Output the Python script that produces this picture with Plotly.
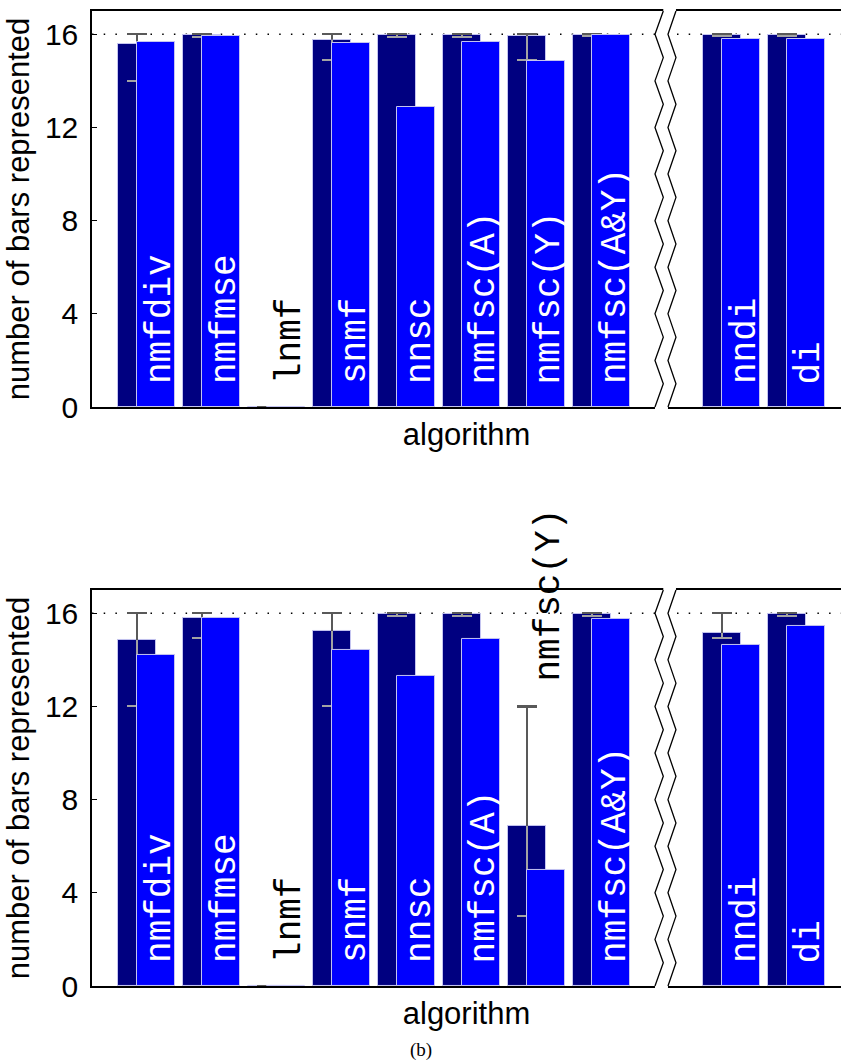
import plotly.graph_objects as go

# ---------------- data ----------------
algorithms = ['nmfdiv', 'nmfmse', 'lnmf', 'snmf', 'nnsc', 'nmfsc(A)',
              'nmfsc(Y)', 'nmfsc(A&Y)', 'nndi', 'di']
positions = [1, 2, 3, 4, 5, 6, 7, 8, 10, 11]
break_pos = 9

# upper panel
top_dark = [15.6, 15.96, 0, 15.77, 15.96, 15.96, 15.92, 15.96, 15.95, 15.95]
top_light = [15.67, 15.92, 0, 15.63, 12.88, 15.67, 14.86, 15.96, 15.79, 15.79]
top_err_hi = [16, 16, 0, 16, 16, 16, 16, 16, 16, 16]
top_err_lo = [14, 15.9, 0, 14.9, 15.9, 15.9, 14.9, 15.94, 15.92, 15.92]

# lower panel
bot_dark = [14.85, 15.8, 0, 15.23, 15.95, 15.95, 6.85, 15.95, 15.15, 15.95]
bot_light = [14.23, 15.8, 0, 14.43, 13.3, 14.88, 4.97, 15.75, 14.65, 15.45]
bot_err_hi = [16, 16, 0, 16, 16, 16, 12, 16, 16, 16]
bot_err_lo = [12, 14.95, 0, 12, 15.9, 15.9, 3, 15.9, 14.95, 15.9]

y_ticks = [0, 4, 8, 12, 16]
ref_level = 16
y_max = 17

# ---------------- style ----------------
DARK = '#000080'
LIGHT = '#0000ff'
EDGE = '#c4c4f0'
ERR_DARK = '#595959'
ERR_LIGHT = '#a3a3a3'
BAR_W = 0.585
DARK_OFF = -0.4385
LIGHT_OFF = -0.146
X_RANGE = [0.1615, 11.685]
SANS = 'Liberation Sans, Arial, sans-serif'
MONO = 'Liberation Mono, Courier New, monospace'

fig = go.Figure()
invisible = dict(color='rgba(0,0,0,0)', line=dict(width=0))


def add_panel(xa, ya, dark, light, hi, lo):
    xref = 'x' if xa == 'x1' else xa
    yref = 'y' if ya == 'y1' else ya
    common = dict(x=positions, xaxis=xref, yaxis=yref, width=BAR_W,
                  showlegend=False, hoverinfo='skip')
    # dark bars with upper half of error bar
    fig.add_trace(go.Bar(
        y=dark, offset=DARK_OFF, marker=dict(color=DARK, line=dict(color=EDGE, width=1)),
        error_y=dict(type='data', symmetric=False,
                     array=[h - d for h, d in zip(hi, dark)],
                     arrayminus=[0] * len(dark), width=0, thickness=2, color=ERR_DARK),
        **common))
    # lower half of error bar
    fig.add_trace(go.Bar(
        y=dark, offset=DARK_OFF, marker=invisible,
        error_y=dict(type='data', symmetric=False, array=[0] * len(dark),
                     arrayminus=[d - l for d, l in zip(dark, lo)],
                     width=0, thickness=2, color=ERR_LIGHT),
        **common))
    # lower caps
    fig.add_trace(go.Bar(
        y=lo, offset=DARK_OFF, marker=invisible,
        error_y=dict(type='data', symmetric=False, array=[0] * len(lo),
                     arrayminus=[0] * len(lo), width=10, thickness=2, color=ERR_LIGHT),
        **common))
    # upper caps
    fig.add_trace(go.Bar(
        y=hi, offset=DARK_OFF, marker=invisible,
        error_y=dict(type='data', symmetric=False, array=[0] * len(hi),
                     arrayminus=[0] * len(hi), width=10, thickness=2.2, color=ERR_DARK),
        **common))
    # light bars on top
    fig.add_trace(go.Bar(
        y=light, offset=LIGHT_OFF, marker=dict(color=LIGHT, line=dict(color=EDGE, width=1)),
        **common))

    # reference dotted line at 16
    fig.add_shape(type='line', xref=xref + ' domain', yref=yref, x0=0, x1=1,
                  y0=ref_level, y1=ref_level, layer='below',
                  line=dict(color='black', width=1.5, dash='1.5px,10.2px'))

    # in-bar rotated labels
    for name, p, lv, h in zip(algorithms, positions, light, hi):
        if 0 < lv < 8:
            base = h + 1.0
        else:
            base = 0.9
        color = 'white' if lv > base else 'black'
        fig.add_annotation(x=p + LIGHT_OFF + BAR_W / 2 + 0.06, y=base, xref=xref, yref=yref,
                           text=name.replace('&', '&amp;'), showarrow=False,
                           textangle=-90, xanchor='center', yanchor='bottom',
                           font=dict(family=MONO, size=36, color=color))

    # axis break symbol (zig-zag band)
    span = X_RANGE[1] - X_RANGE[0]

    def fx(v):
        return (break_pos + v - X_RANGE[0]) / span

    left_pts, right_pts = [], []
    for k in range(0, y_max + 1):
        even = (k % 2 == 0)
        left_pts.append((fx(-0.177 if even else -0.049), k / y_max))
        right_pts.append((fx(0.023 if even else 0.146), k / y_max))
    ext = 0.008
    fill_pts = ([(left_pts[0][0], -ext)] + left_pts + [(left_pts[-1][0], 1 + ext),
                (right_pts[-1][0], 1 + ext)] + right_pts[::-1] + [(right_pts[0][0], -ext)])
    path_fill = 'M ' + ' L '.join(f'{a:.5f},{b:.5f}' for a, b in fill_pts) + ' Z'
    fig.add_shape(type='path', xref=xref + ' domain', yref=yref + ' domain', path=path_fill,
                  fillcolor='white', line=dict(width=0), layer='above')
    for pts in (left_pts, right_pts):
        pth = 'M ' + ' L '.join(f'{a:.5f},{b:.5f}' for a, b in pts)
        fig.add_shape(type='path', xref=xref + ' domain', yref=yref + ' domain', path=pth,
                      line=dict(color='black', width=1.3), layer='above')


add_panel('x1', 'y1', top_dark, top_light, top_err_hi, top_err_lo)
add_panel('x2', 'y2', bot_dark, bot_light, bot_err_hi, bot_err_lo)

xax = dict(range=X_RANGE, showticklabels=False, ticks='', showgrid=False, zeroline=False,
           showline=True, mirror=True, linecolor='black', linewidth=1.5,
           title=dict(text='algorithm', font=dict(family=SANS, size=31, color='black'),
                      standoff=16))
yax = dict(range=[0, y_max], tickvals=y_ticks, ticks='inside', ticklen=5, tickwidth=1,
           tickcolor='black', showgrid=False, zeroline=False, showline=True, mirror=False,
           linecolor='black', linewidth=1.5, ticklabelstandoff=6,
           tickfont=dict(family=SANS, size=30, color='black'),
           title=dict(text='number of bars represented',
                      font=dict(family=SANS, size=31, color='black'), standoff=6))

fig.update_layout(
    width=841, height=1063,
    margin=dict(l=92, r=0, t=11, b=77, autoexpand=False),
    paper_bgcolor='white', plot_bgcolor='white',
    barmode='overlay', bargap=0,
    xaxis=dict(**xax, anchor='y', automargin=False),
    yaxis=dict(**yax, domain=[0.5938, 1.0], anchor='x', automargin=False),
    xaxis2=dict(**xax, anchor='y2', automargin=False),
    yaxis2=dict(**yax, domain=[0.0, 0.4062], anchor='x2', automargin=False),
)

fig.add_annotation(text='(b)', xref='paper', yref='paper', x=0.4386, y=-0.0656,
                   xanchor='center', yanchor='middle', showarrow=False,
                   font=dict(family='Liberation Serif, Times New Roman, serif', size=19,
                             color='black'))

fig.write_html('out.html', config={'displayModeBar': False},
               post_script="document.body.style.margin='0';document.body.style.overflow='hidden';")
